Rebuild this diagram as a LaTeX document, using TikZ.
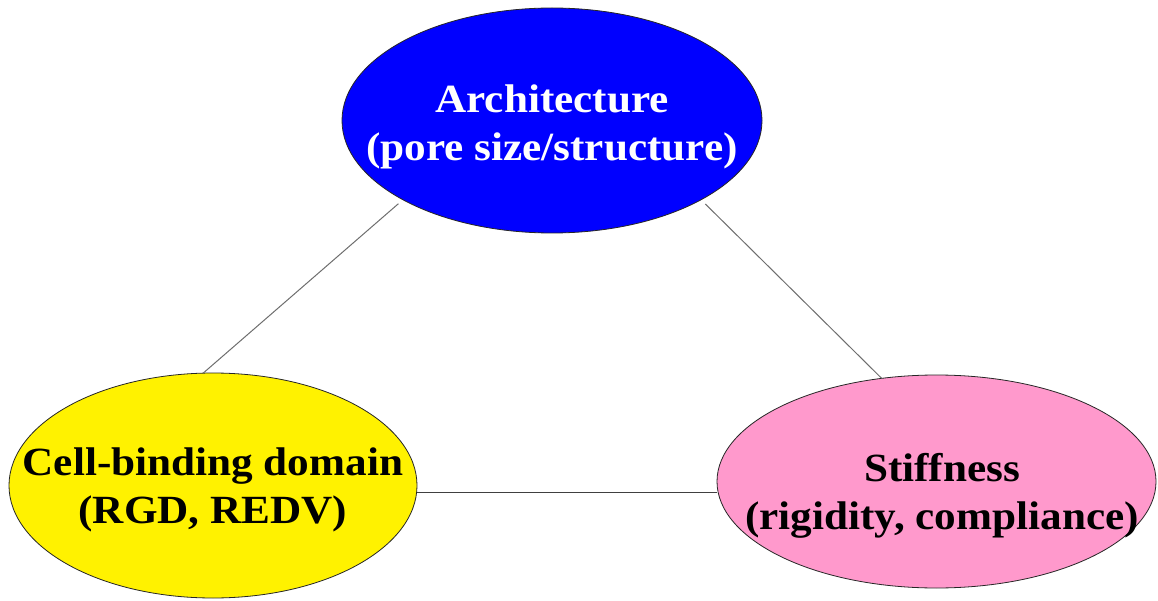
\documentclass[tikz,border=0pt]{standalone}
\usepackage{fontspec}
\setmainfont[FakeStretch=1.08]{Liberation Serif}
\usetikzlibrary{shapes.geometric}
\definecolor{pinkfill}{RGB}{255,153,204}
\definecolor{linkgray}{RGB}{110,110,110}
\begin{document}
\begin{tikzpicture}[x=1pt,y=-1pt,
    blob/.style={ellipse,draw=black!85,line width=.8pt,inner sep=0pt,outer sep=0pt},
    txt/.style={align=center,font=\fontsize{40}{48}\selectfont\bfseries},
    link/.style={draw=linkgray,line width=1pt}]
    \useasboundingbox[fill=white] (0,0) rectangle (1158,601);
    % the three ellipses
    \node[blob,fill=blue,minimum width=420pt,minimum height=225pt] (arch) at (552,120.5) {};
    \node[blob,fill=yellow,minimum width=408pt,minimum height=225pt] (cell) at (213,485.5) {};
    \node[blob,fill=pinkfill,minimum width=439pt,minimum height=213pt] (stiff) at (936.5,481.5) {};
    % texts
    \node[txt,text=white] (archtxt) at (552,127) {Architecture\\(pore size/structure)};
    \node[txt] (celltxt) at (213,490) {Cell-binding domain\\(RGD, REDV)};
    \node[txt] (stifftxt) at (942,496) {Stiffness\\(rigidity, compliance)};
    % links
    \draw[link,shorten <=6pt] (arch.208) -- (cell.95);
    \draw[link,shorten <=6pt] (arch.332) -- (stiff.118);
    \draw[link,draw=black!75] (cell.358) -- (cell.358 -| stiff.west);
\end{tikzpicture}
\end{document}
